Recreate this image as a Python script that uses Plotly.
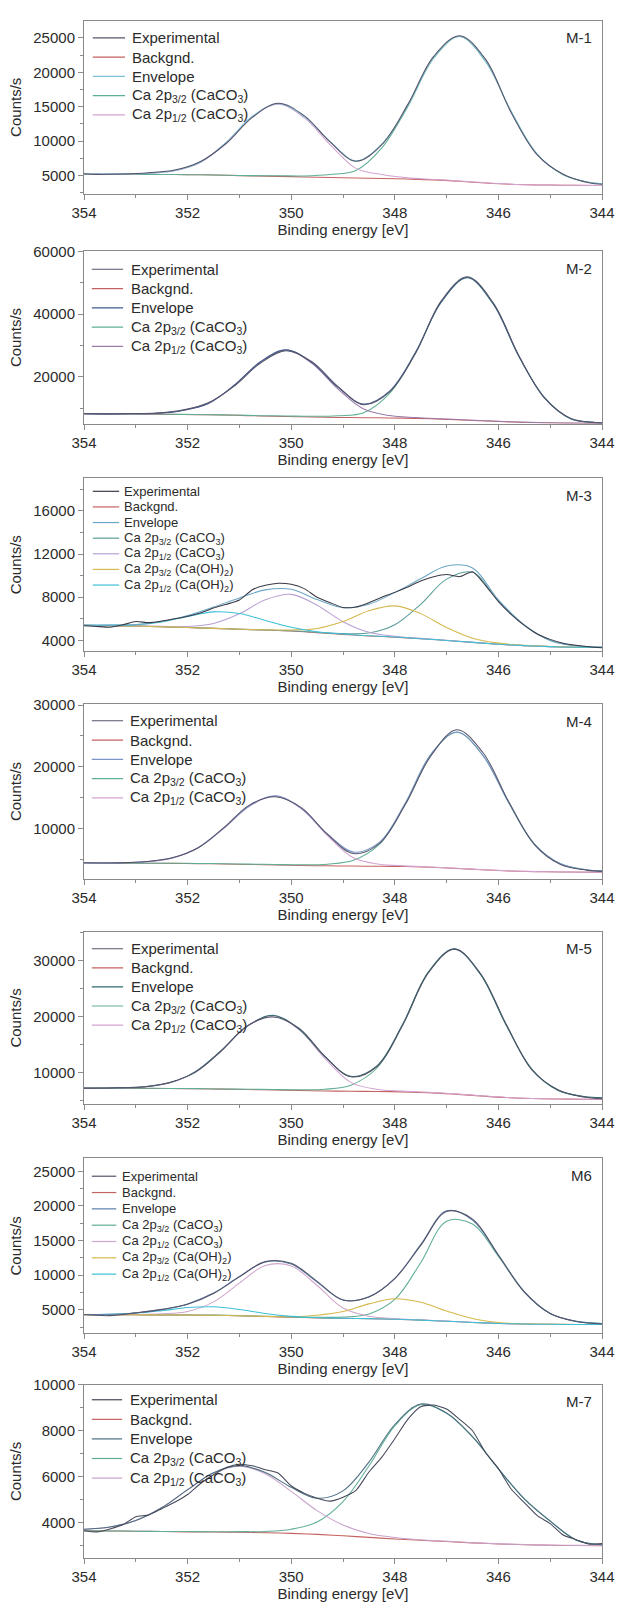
import plotly.graph_objects as go

# ---------------- data ----------------
# common 0.5 eV grid
energy_grid = [354, 353.5, 353, 352.5, 352, 351.5, 351, 350.5, 350, 349.5, 349,
               348.5, 348, 347.5, 347, 346.5, 346, 345.5, 345, 344.5, 344]
# 0.25 eV grid for the noisier experimental traces
energy_fine = [354, 353.75, 353.5, 353.25, 353, 352.75, 352.5, 352.25, 352, 351.75,
               351.5, 351.25, 351, 350.75, 350.5, 350.25, 350, 349.75, 349.5, 349.25,
               349, 348.75, 348.5, 348.25, 348, 347.75, 347.5, 347.25, 347, 346.75,
               346.5, 346.25, 346, 345.75, 345.5, 345.25, 345, 344.75, 344.5, 344.25, 344]

# ---- M-1
energy_m1 = [354, 353.75, 353.25, 352.75, 352.25, 351.75, 351.25, 350.75, 350.25, 349.75, 349.25,
             348.75, 348.25, 347.75, 347.25, 346.75, 346.25, 345.75, 345.25, 344.75, 344.25, 344]
m1_bg = [5200, 5200, 5195, 5180, 5150, 5110, 5040, 4960, 4890, 4810, 4720, 4650, 4590, 4500,
         4380, 4180, 3930, 3740, 3650, 3600, 3570, 3560]
m1_p32 = [5200, 5200, 5195, 5180, 5150, 5120, 5060, 5000, 4975, 4955, 5160, 5750, 9020, 15000,
          22040, 25180, 21590, 14240, 8080, 5130, 4010, 3810]
m1_p12 = [5230, 5240, 5260, 5350, 5715, 6910, 9830, 13570, 15350, 13420, 9510, 6050, 5155, 4670,
          4445, 4220, 3960, 3760, 3670, 3610, 3580, 3570]
m1_env = [5230, 5240, 5260, 5350, 5715, 6930, 9850, 13610, 15435, 13565, 9950, 7150, 9585, 15170,
          22100, 25220, 21620, 14260, 8100, 5140, 4020, 3820]
m1_exp = [5260, 5180, 5230, 5420, 5800, 7050, 9700, 13450, 15500, 13700, 9900, 7080, 9500, 15300,
          22300, 25300, 21900, 14100, 8000, 5200, 3950, 3750]

# ---- M-2
energy_m2 = [354, 353.6, 353.1, 352.6, 352.1, 351.6, 351.1, 350.6, 350.1, 349.6, 349.1,
             348.6, 348.1, 347.6, 347.1, 346.6, 346.1, 345.6, 345.1, 344.6, 344.1, 344]
m2_bg = [8200, 8150, 8100, 8050, 7950, 7850, 7700, 7500, 7350, 7150, 7030, 6950, 6870, 6720,
         6450, 6150, 5800, 5500, 5300, 5180, 5110, 5100]
m2_p32 = [8200, 8150, 8100, 8095, 7995, 7895, 7770, 7590, 7490, 7380, 7575, 8540, 14690, 27540,
          43855, 51600, 43205, 26320, 13120, 6544, 5383, 5282]
m2_p12 = [8240, 8210, 8210, 8300, 9220, 11450, 17220, 24630, 28500, 24280, 16125, 9700, 7610, 6975,
          6575, 6235, 5865, 5540, 5340, 5200, 5130, 5120]
m2_env = [8240, 8210, 8210, 8345, 9265, 11495, 17290, 24720, 28640, 24510, 16670, 11290, 15430,
          27795, 43980, 51685, 43270, 26360, 13160, 6564, 5403, 5302]
m2_exp = [8300, 8150, 8250, 8400, 9400, 11700, 17000, 24300, 28300, 24800, 16900, 11100, 15200,
          27500, 44300, 51900, 43600, 26600, 13000, 6700, 5350, 5250]

# ---- M-3 (on energy_grid, experimental on energy_fine)
m3_bg = [5400, 5370, 5330, 5270, 5200, 5120, 5040, 4960, 4870, 4720, 4560, 4420, 4300, 4160,
         4000, 3820, 3650, 3520, 3430, 3370, 3340]
m3_p32 = [5400, 5370, 5330, 5270, 5200, 5120, 5040, 4965, 4890, 4760, 4640, 4680, 5446, 7350,
          9679, 10311, 7650, 5420, 3990, 3510, 3385]
m3_p12 = [5400, 5370, 5345, 5305, 5290, 5570, 6465, 7760, 8265, 7260, 5735, 4755, 4385, 4190,
          4015, 3825, 3650, 3520, 3430, 3370, 3340]
m3_oh32 = [5400, 5370, 5330, 5270, 5200, 5120, 5045, 4983, 4972, 5112, 5752, 6743, 7200, 6483,
           5192, 4212, 3752, 3549, 3442, 3370, 3340]
m3_oh12 = [5415, 5420, 5450, 5710, 6220, 6645, 6500, 5855, 5220, 4810, 4590, 4435, 4310, 4165,
           4003, 3822, 3651, 3520, 3430, 3370, 3340]
m3_env = [5415, 5420, 5465, 5745, 6310, 7095, 7930, 8683, 8737, 7782, 7037, 7353, 8441, 9708,
          10889, 10710, 7753, 5449, 4002, 3510, 3385]
m3_exp = [5370, 5300, 5230, 5450, 5750, 5650, 5800, 6000, 6250, 6550, 7000, 7350, 7750, 8700,
          9100, 9300, 9200, 8800, 8000, 7500, 7050, 7100, 7500, 8000, 8450, 8950, 9500, 9900,
          10100, 9900, 10350, 9100, 7600, 6400, 5400, 4600, 4100, 3750, 3550, 3420, 3330]

# ---- M-4
energy_m4 = [354, 353.3, 352.8, 352.3, 351.8, 351.3, 350.8, 350.3, 349.8, 349.3, 348.8,
             348.3, 347.8, 347.3, 346.8, 346.3, 345.8, 345.3, 344.8, 344.3, 344]
m4_bg = [4370, 4350, 4330, 4300, 4260, 4200, 4130, 4050, 3960, 3900, 3860, 3830, 3780, 3660,
         3480, 3250, 3070, 2960, 2900, 2870, 2860]
m4_p32 = [4370, 4350, 4330, 4322, 4293, 4244, 4174, 4116, 4070, 4165, 4788, 7366, 13946, 22003,
          25580, 21814, 14120, 7380, 4226, 3268, 3081]
m4_p12 = [4392, 4417, 4553, 5136, 6825, 9998, 13608, 15200, 13103, 8806, 5198, 4165, 3892, 3716,
          3513, 3272, 3092, 2971, 2911, 2881, 2871]
m4_env = [4392, 4417, 4553, 5158, 6858, 10042, 13652, 15266, 13213, 9071, 6126, 7701, 14058,
          22059, 25613, 21836, 14142, 7391, 4226, 3268, 3081]
m4_exp = [4400, 4380, 4600, 5200, 6800, 10100, 13800, 15100, 13300, 9000, 5900, 7500, 13800,
          21800, 26000, 22300, 14300, 7300, 4100, 3200, 3000]

# ---- M-5
energy_m5 = [354, 353.35, 352.85, 352.35, 351.85, 351.35, 350.85, 350.35, 349.85, 349.35, 348.85,
             348.35, 347.85, 347.35, 346.85, 346.35, 345.85, 345.35, 344.85, 344.35, 344]
m5_bg = [7180, 7160, 7140, 7110, 7070, 7010, 6940, 6860, 6760, 6680, 6630, 6590, 6520, 6380,
         6120, 5800, 5500, 5320, 5240, 5200, 5180]
m5_p32 = [7180, 7160, 7166, 7136, 7096, 7036, 6992, 6938, 6890, 6991, 7718, 10734, 18434, 27877,
          32020, 27556, 18450, 10500, 6794, 5666, 5439]
m5_p12 = [7206, 7239, 7405, 8103, 10115, 13895, 18194, 20100, 17617, 12506, 8219, 6987, 6652,
          6446, 6160, 5826, 5526, 5333, 5253, 5213, 5193]
m5_env = [7206, 7239, 7431, 8129, 10141, 13921, 18246, 20178, 17747, 12817, 9307, 11131, 18566,
          27943, 32060, 27582, 18476, 10513, 6807, 5679, 5452]
m5_exp = [7150, 7250, 7400, 8200, 10000, 13800, 18300, 19900, 17900, 12900, 9200, 11000, 18400,
          27800, 32000, 27700, 18600, 10400, 6900, 5600, 5300]

# ---- M6 (on energy_grid)
m6_bg = [4290, 4280, 4270, 4250, 4230, 4190, 4120, 4020, 3910, 3820, 3760, 3710, 3620, 3500,
         3340, 3170, 3020, 2930, 2890, 2870, 2860]
m6_p32 = [4290, 4280, 4270, 4250, 4245, 4220, 4150, 4065, 3970, 3910, 3941, 4389, 6485, 11794,
          17787, 17375, 12716, 7575, 4443, 3322, 3011]
m6_p12 = [4306, 4303, 4317, 4406, 4745, 6132, 8855, 11399, 11320, 8500, 5242, 4061, 3714, 3539,
          3363, 3186, 3036, 2938, 2898, 2878, 2868]
m6_oh32 = [4290, 4280, 4270, 4250, 4230, 4196, 4132, 4044, 3996, 4203, 4740, 5848, 6575, 6069,
           4822, 3737, 3163, 2966, 2905, 2879, 2866]
m6_oh12 = [4305, 4336, 4489, 4859, 5314, 5429, 5028, 4446, 4039, 3845, 3775, 3718, 3624, 3500,
           3340, 3170, 3020, 2930, 2890, 2870, 2860]
m6_env = [4321, 4359, 4536, 5015, 5844, 7407, 9805, 11894, 11595, 8998, 6418, 6886, 9538, 14402,
          19292, 17958, 12875, 7619, 4466, 3339, 3025]
m6_exp = [4300, 4150, 4550, 5050, 5800, 7350, 9750, 11950, 11700, 9100, 6400, 6850, 9500, 14300,
          19200, 18100, 12900, 7550, 4450, 3300, 2950]

# ---- M-7 (on energy_grid, experimental on energy_fine)
m7_bg = [3640, 3630, 3620, 3605, 3590, 3580, 3570, 3550, 3525, 3480, 3420, 3350, 3280, 3220,
         3170, 3110, 3065, 3030, 3005, 2995, 2990]
m7_p32 = [3640, 3630, 3620, 3605, 3602, 3598, 3600, 3609, 3703, 4021, 4911, 6463, 8210, 9136,
          8760, 7731, 6338, 5026, 4056, 3233, 3020]
m7_p12 = [3703, 3800, 4089, 4642, 5419, 6152, 6450, 6122, 5354, 4517, 3889, 3520, 3343, 3249,
          3184, 3119, 3071, 3036, 3011, 3001, 2996]
m7_env = [3703, 3800, 4089, 4642, 5431, 6170, 6480, 6181, 5532, 5058, 5380, 6633, 8273, 9165,
          8774, 7740, 6344, 5032, 4062, 3239, 3026]
m7_exp = [3640, 3590, 3720, 3900, 4250, 4330, 4600, 4880, 5220, 5700, 6080, 6400, 6540, 6470,
          6300, 6150, 5600, 5280, 5060, 4930, 5100, 5400, 6200, 6850, 7650, 8500, 9050, 9120,
          8950, 8500, 8000, 7050, 6350, 5450, 4870, 4300, 3950, 3450, 3250, 3050, 3080]

panel_labels = ["M-1", "M-2", "M-3", "M-4", "M-5", "M6", "M-7"]
y_ranges = [[2390, 27440], [5070, 60000], [3020, 19000], [1840, 30100],
            [4350, 35070], [1570, 26860], [2450, 10000]]
y_dticks = [5000, 20000, 4000, 10000, 10000, 5000, 2000]
x_ticks = [354, 352, 350, 348, 346, 344]

# ---------------- styling / layout ----------------
FONT = "Liberation Sans, Arial, Helvetica, sans-serif"
TXT = "#2b2b2b"
FRAME = "#8a8a8a"
W, H = 627, 1612
ML, MR, MT, MB = 84, 13, 12, 46
PW = W - ML - MR
PH = H - MT - MB
panel_px = [(12, 186.5), (245, 419), (474.5, 649), (703, 879), (933, 1107),
            (1162, 1339), (1391, 1566)]
# legend geometry per panel: first-row offset, row gap, font size, line x0, line x1, text x (px)
legend_geo = [(17, 19.5, 15, 9, 42, 47), (18, 19.5, 15, 8, 40, 46), (13, 15.8, 13, 9, 36, 39),
              (16.5, 19.5, 15, 8, 40, 45), (17, 19.3, 15, 8, 40, 46), (18, 16.5, 13, 8, 33, 37),
              (15, 19.8, 15, 8, 39, 45)]

NAME_EXP = "Experimental"
NAME_BG = "Backgnd."
NAME_ENV = "Envelope"
NAME_P32 = "Ca 2p<sub>3/2</sub> (CaCO<sub>3</sub>)"
NAME_P12 = "Ca 2p<sub>1/2</sub> (CaCO<sub>3</sub>)"
NAME_OH32 = "Ca 2p<sub>3/2</sub> (Ca(OH)<sub>2</sub>)"
NAME_OH12 = "Ca 2p<sub>1/2</sub> (Ca(OH)<sub>2</sub>)"

C_EXP = "#55546a"
C_BG = "#c4625f"
C_P32 = "#5fae96"
C_P12 = "#d3a3d2"
C_OH32 = "#d6b84c"
C_OH12 = "#3dbfd6"
env_colors = ["#80c0d6", "#3e5c8c", "#6aa6c6", "#7a96c8", "#2f6a6c", "#5a7fa8", "#4a6e80"]
p12_colors = [C_P12, "#9b7bab", "#b9a0d2", C_P12, C_P12, "#d0a6cc", "#c9a2ca"]

panels = [
    [(NAME_BG, energy_m1, m1_bg, C_BG, 2), (NAME_P32, energy_m1, m1_p32, C_P32, 4),
     (NAME_P12, energy_m1, m1_p12, p12_colors[0], 5), (NAME_ENV, energy_m1, m1_env, env_colors[0], 3),
     (NAME_EXP, energy_m1, m1_exp, C_EXP, 1)],
    [(NAME_BG, energy_m2, m2_bg, C_BG, 2), (NAME_P32, energy_m2, m2_p32, C_P32, 4),
     (NAME_P12, energy_m2, m2_p12, p12_colors[1], 5), (NAME_ENV, energy_m2, m2_env, env_colors[1], 3),
     (NAME_EXP, energy_m2, m2_exp, C_EXP, 1)],
    [(NAME_BG, energy_grid, m3_bg, C_BG, 2), (NAME_P32, energy_grid, m3_p32, "#5a9e9a", 4),
     (NAME_P12, energy_grid, m3_p12, p12_colors[2], 5), (NAME_OH32, energy_grid, m3_oh32, C_OH32, 6),
     (NAME_OH12, energy_grid, m3_oh12, C_OH12, 7), (NAME_ENV, energy_grid, m3_env, env_colors[2], 3),
     (NAME_EXP, energy_fine, m3_exp, "#3a3a46", 1)],
    [(NAME_BG, energy_m4, m4_bg, C_BG, 2), (NAME_P32, energy_m4, m4_p32, C_P32, 4),
     (NAME_P12, energy_m4, m4_p12, p12_colors[3], 5), (NAME_ENV, energy_m4, m4_env, env_colors[3], 3),
     (NAME_EXP, energy_m4, m4_exp, C_EXP, 1)],
    [(NAME_BG, energy_m5, m5_bg, C_BG, 2), (NAME_P32, energy_m5, m5_p32, C_P32, 4),
     (NAME_P12, energy_m5, m5_p12, p12_colors[4], 5), (NAME_ENV, energy_m5, m5_env, env_colors[4], 3),
     (NAME_EXP, energy_m5, m5_exp, C_EXP, 1)],
    [(NAME_BG, energy_grid, m6_bg, C_BG, 2), (NAME_P32, energy_grid, m6_p32, C_P32, 4),
     (NAME_P12, energy_grid, m6_p12, p12_colors[5], 5), (NAME_OH32, energy_grid, m6_oh32, C_OH32, 6),
     (NAME_OH12, energy_grid, m6_oh12, C_OH12, 7), (NAME_ENV, energy_grid, m6_env, env_colors[5], 3),
     (NAME_EXP, energy_grid, m6_exp, C_EXP, 1)],
    [(NAME_BG, energy_grid, m7_bg, C_BG, 2), (NAME_P32, energy_grid, m7_p32, C_P32, 4),
     (NAME_P12, energy_grid, m7_p12, p12_colors[6], 5), (NAME_ENV, energy_grid, m7_env, env_colors[6], 3),
     (NAME_EXP, energy_fine, m7_exp, "#45485a", 1)],
]

fig = go.Figure()
layout = dict(width=W, height=H, margin=dict(l=ML, r=MR, t=MT, b=MB),
              paper_bgcolor="white", plot_bgcolor="white", showlegend=False,
              font=dict(family=FONT, size=15, color=TXT), annotations=[], shapes=[])

for i, series in enumerate(panels):
    n = i + 1
    sfx = "" if n == 1 else str(n)
    top_px, bot_px = panel_px[i]
    ph = bot_px - top_px
    y0 = (H - MB - bot_px) / PH
    y1 = (H - MB - top_px) / PH
    for (name, xs, ys, color, rank) in series:
        smooth = 0.6 if (name == NAME_EXP and xs is energy_fine) else 1.0
        fig.add_trace(go.Scatter(
            x=xs, y=ys, name=name, mode="lines",
            line=dict(color=color, width=1.05, shape="spline", smoothing=smooth),
            xaxis="x" + sfx, yaxis="y" + sfx, showlegend=False, hoverinfo="skip"))
    layout["xaxis" + sfx] = dict(
        domain=[0, 1], anchor="y" + sfx, range=[354, 344], autorange=False,
        tickmode="array", tickvals=x_ticks, ticks="outside", ticklen=5, tickwidth=1,
        tickcolor=FRAME, showline=True, linecolor=FRAME, linewidth=1, mirror=True,
        showgrid=False, zeroline=False, tickfont=dict(size=15, color=TXT),
        minor=dict(dtick=1, tick0=344, ticks="outside", ticklen=3, tickcolor=FRAME),
        title=dict(text="Binding energy [eV]", font=dict(size=15, color=TXT), standoff=4))
    layout["yaxis" + sfx] = dict(
        domain=[y0, y1], anchor="x" + sfx, range=y_ranges[i], autorange=False,
        tickmode="linear", tick0=0, dtick=y_dticks[i], tickformat="d",
        ticks="outside", ticklen=5, tickwidth=1, tickcolor=FRAME,
        showline=True, linecolor=FRAME, linewidth=1, mirror=True,
        showgrid=False, zeroline=False, tickfont=dict(size=15, color=TXT),
        minor=dict(dtick=y_dticks[i] / 2, ticks="outside", ticklen=3, tickcolor=FRAME),
        title=dict(text="Counts/s", font=dict(size=15, color=TXT), standoff=8))
    # in-plot legend (line sample + label), ordered like the reference
    first, gap, fs, lx0, lx1, tx = legend_geo[i]
    ordered = sorted(series, key=lambda s: s[4])
    for k, (name, xs, ys, color, rank) in enumerate(ordered):
        yy = 1 - (first + k * gap) / ph
        layout["shapes"].append(dict(
            type="line", xref="x" + sfx + " domain", yref="y" + sfx + " domain",
            x0=lx0 / PW, x1=lx1 / PW, y0=yy, y1=yy, line=dict(color=color, width=1.2)))
        layout["annotations"].append(dict(
            text=name, xref="x" + sfx + " domain", yref="y" + sfx + " domain",
            x=tx / PW, y=yy, xanchor="left", yanchor="middle", showarrow=False,
            font=dict(size=fs, color=TXT, family=FONT)))
    layout["annotations"].append(dict(
        text=panel_labels[i], xref="x" + sfx + " domain", yref="y" + sfx + " domain",
        x=0.985, y=1 - 17 / ph, xanchor="right", yanchor="middle",
        showarrow=False, font=dict(size=15, color=TXT, family=FONT)))

fig.update_layout(**layout)
fig.write_html("out.html", config={"displayModeBar": False, "staticPlot": True},
               post_script="document.body.style.margin='0px';document.body.style.overflow='hidden';")
